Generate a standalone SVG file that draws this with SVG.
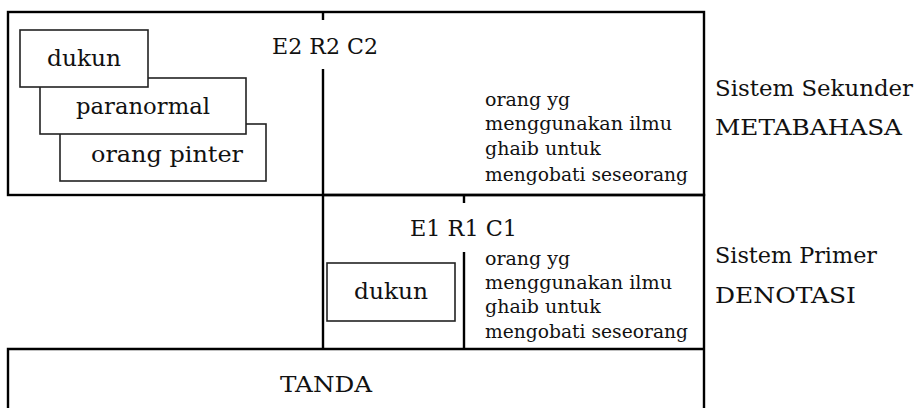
<svg xmlns="http://www.w3.org/2000/svg" width="917" height="408" viewBox="0 0 917 408">
<style>
text{font-family:"DejaVu Serif","Liberation Serif",serif;fill:#111}
.big{font-size:22px}
.sm{font-size:19px}
.ln{stroke:#000;stroke-width:2.4;fill:none}
.bx{stroke:#222;stroke-width:1.6;fill:#fff}
</style>
<rect width="917" height="408" fill="#fff"/>
<g id="frame">
<rect class="ln" x="8" y="12" width="696" height="183"/>
<path class="ln" d="M323 195 H704 V349 M8 412 V349 H704 V412"/>
</g>
<g id="connectors">
<path class="ln" d="M323 12 V20 M323 69 V349 M464 195 V203 M464 252 V349"/>
</g>
<g id="orang-pinter">
<rect class="bx" x="60" y="124" width="206" height="57"/>
<text class="big" x="91" y="162" textLength="152" lengthAdjust="spacingAndGlyphs">orang pinter</text>
</g>
<g id="paranormal">
<rect class="bx" x="40" y="78" width="206" height="56"/>
<text class="big" x="76" y="114" textLength="134" lengthAdjust="spacingAndGlyphs">paranormal</text>
</g>
<g id="dukun2">
<rect class="bx" x="20" y="30" width="128" height="57"/>
<text class="big" x="47" y="66" textLength="74" lengthAdjust="spacingAndGlyphs">dukun</text>
</g>
<g id="e2r2c2">
<text class="big" x="272" y="54" textLength="106" lengthAdjust="spacingAndGlyphs">E2 R2 C2</text>
</g>
<g id="c2">
<text class="sm" x="485" y="106">orang yg</text>
<text class="sm" x="485" y="130" textLength="187" lengthAdjust="spacingAndGlyphs">menggunakan ilmu</text>
<text class="sm" x="485" y="155">ghaib untuk</text>
<text class="sm" x="485" y="181" textLength="203" lengthAdjust="spacingAndGlyphs">mengobati seseorang</text>
</g>
<g id="e1r1c1">
<text class="big" x="410" y="236" textLength="107" lengthAdjust="spacingAndGlyphs">E1 R1 C1</text>
</g>
<g id="dukun1">
<rect class="bx" x="327" y="263" width="128" height="58"/>
<text class="big" x="354" y="299" textLength="74" lengthAdjust="spacingAndGlyphs">dukun</text>
</g>
<g id="c1">
<text class="sm" x="485" y="265">orang yg</text>
<text class="sm" x="485" y="289" textLength="187" lengthAdjust="spacingAndGlyphs">menggunakan ilmu</text>
<text class="sm" x="485" y="313">ghaib untuk</text>
<text class="sm" x="485" y="338" textLength="203" lengthAdjust="spacingAndGlyphs">mengobati seseorang</text>
</g>
<g id="tanda">
<text class="big" x="280" y="392" textLength="92" lengthAdjust="spacingAndGlyphs">TANDA</text>
</g>
<g id="labels">
<text class="big" x="715" y="96" textLength="198" lengthAdjust="spacingAndGlyphs">Sistem Sekunder</text>
<text class="big" x="715" y="135" textLength="187" lengthAdjust="spacingAndGlyphs">METABAHASA</text>
<text class="big" x="715" y="263" textLength="162" lengthAdjust="spacingAndGlyphs">Sistem Primer</text>
<text class="big" x="715" y="303" textLength="141" lengthAdjust="spacingAndGlyphs">DENOTASI</text>
</g>
</svg>
